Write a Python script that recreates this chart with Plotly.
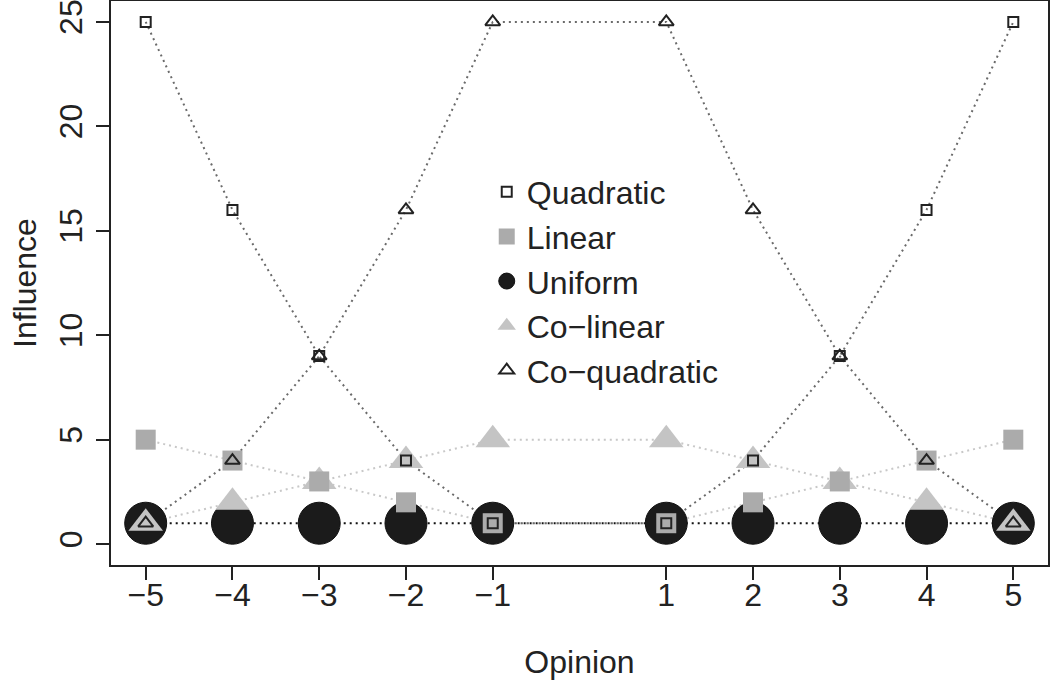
import plotly.graph_objects as go

# opinion positions (no 0)
opinion = [-5, -4, -3, -2, -1, 1, 2, 3, 4, 5]

quadratic = [25, 16, 9, 4, 1, 1, 4, 9, 16, 25]
linear = [5, 4, 3, 2, 1, 1, 2, 3, 4, 5]
uniform = [1, 1, 1, 1, 1, 1, 1, 1, 1, 1]
co_linear = [1, 2, 3, 4, 5, 5, 4, 3, 2, 1]
co_quadratic = [1, 4, 9, 16, 25, 25, 16, 9, 4, 1]

x_ticks = [-5, -4, -3, -2, -1, 1, 2, 3, 4, 5]
y_ticks = [0, 5, 10, 15, 20, 25]

FONT = "Liberation Sans, Arial, sans-serif"
INK = "#222222"

# (name, values, marker style, line colour, legend rank) in drawing order
series = [
    ("Uniform", uniform, dict(symbol="circle", size=42, color="#1b1b1b",
                              line=dict(color="#111111", width=1)), "#111111", 3),
    ("Co\u2212linear", co_linear, dict(symbol="triangle-up", size=30, color="#c4c4c4",
                                       line=dict(width=0)), "#c8c8c8", 4),
    ("Linear", linear, dict(symbol="square", size=20, color="#ababab",
                            line=dict(width=0)), "#c8c8c8", 2),
    ("Quadratic", quadratic, dict(symbol="square-open", size=10, color=INK,
                                  line=dict(color=INK, width=2)), "#6a6a6a", 1),
    ("Co\u2212quadratic", co_quadratic, dict(symbol="triangle-up-open", size=13, color=INK,
                                             line=dict(color=INK, width=2)), "#6a6a6a", 5),
]

fig = go.Figure()

# dotted connecting lines underneath
for name, vals, mk, lc, rank in series:
    fig.add_trace(go.Scatter(x=opinion, y=vals, mode="lines", showlegend=False,
                             hoverinfo="skip",
                             line=dict(color=lc, width=2, dash="2px,4px")))

# points on top
for name, vals, mk, lc, rank in series:
    fig.add_trace(go.Scatter(x=opinion, y=vals, mode="markers", name=name,
                             legendrank=rank, marker=mk))

axis_common = dict(
    showline=True, linecolor=INK, linewidth=1.5, mirror=True,
    ticks="outside", ticklen=13, tickwidth=1.5, tickcolor=INK,
    showgrid=False, zeroline=False, automargin=False,
    ticklabeloverflow="allow",
    tickfont=dict(family=FONT, size=32, color=INK),
)

fig.update_xaxes(range=[-5.4, 5.4], tickvals=x_ticks, ticklabelstandoff=-12,
                 title=dict(text="Opinion", font=dict(family=FONT, size=32, color=INK), standoff=38),
                 **axis_common)
fig.update_yaxes(range=[-1, 26], tickvals=y_ticks, tickangle=-90, ticklabelstandoff=1,
                 **axis_common)

# y title placed by hand (axis title can't sit close enough to the labels)
fig.add_annotation(text="Influence", xref="paper", yref="paper", x=0, y=0.5,
                   xanchor="center", yanchor="middle", xshift=-86, textangle=-90,
                   showarrow=False, font=dict(family=FONT, size=32, color=INK))

fig.update_layout(
    width=1050, height=684,
    margin=dict(l=111, r=2, t=1, b=119),
    paper_bgcolor="white", plot_bgcolor="white",
    font=dict(family=FONT, size=32, color=INK),
    legend=dict(x=0.401, y=0.71, xanchor="left", yanchor="top",
                bgcolor="rgba(0,0,0,0)", borderwidth=0,
                font=dict(family=FONT, size=32, color=INK)),
)

# page body margin would offset the figure by 8px
fig.write_html("out.html", config={"displayModeBar": False},
               post_script="document.body.style.margin='0px';")
